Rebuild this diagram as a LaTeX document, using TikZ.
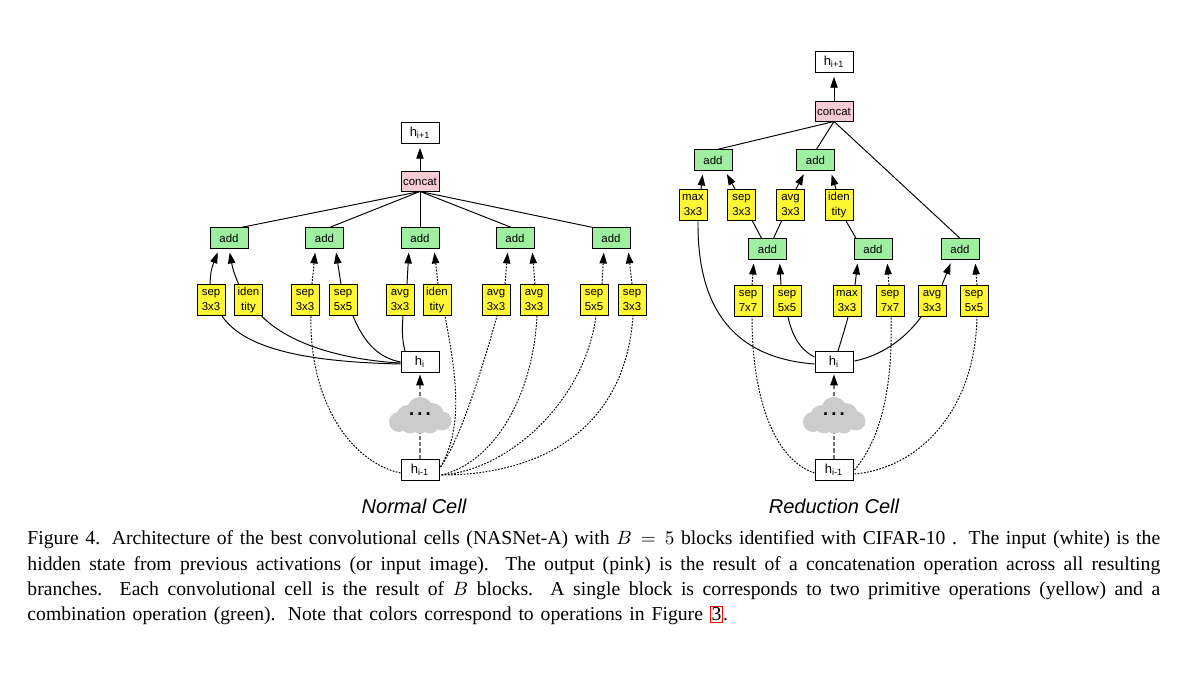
\documentclass[tikz,border=0pt]{standalone}
\usepackage{fontspec}
\setmainfont{Liberation Serif}
\setsansfont{Liberation Sans}
\usepackage{xcolor}
\usetikzlibrary{arrows.meta,calc}
\definecolor{opyellow}{HTML}{FFF733}
\definecolor{addgreen}{HTML}{9FEFA0}
\definecolor{catpink}{HTML}{F7CBD5}

\begin{document}
\begin{tikzpicture}[x=0.02cm, y=-0.02cm, line width=0.55pt,
    box/.style={rectangle, draw, inner sep=0pt, align=center, text height=5pt,
                font=\sffamily\fontsize{6.5}{7.8}\selectfont},
    state/.style={box, fill=white, minimum width=0.76cm, minimum height=0.42cm,
                  font=\sffamily\fontsize{7.4}{8}\selectfont},
    cat/.style={box, fill=catpink, minimum width=0.76cm, minimum height=0.4cm},
    addn/.style={box, fill=addgreen, minimum width=0.76cm, minimum height=0.41cm},
    op/.style={box, fill=opyellow, minimum width=0.56cm, minimum height=0.62cm,
               text height=, font=\sffamily\fontsize{6.5}{8.2}\selectfont},
    blob/.pic={\foreach \dx/\dy/\r in {0/-5/13,-12/2/12,-21/7/10,12/0/12,22/6/9.5,
                                       0/8/10.5,-10/10/8.5,10/10/8.5} {
                   \fill[black!20] (\dx,\dy) circle[radius=\r];}},
    ell/.style={inner sep=0pt, font=\sffamily\bfseries\fontsize{10.5}{11}\selectfont},
    title/.style={font=\sffamily\itshape\fontsize{11.4}{13}\selectfont},
    arr/.style={-{Triangle[length=6.2pt,width=4.2pt]}, shorten >=2.2pt},
    dots/.style={dash pattern=on 1pt off 0.8pt},
    dotarr/.style={arr, dots},
    grayarr/.style={-{Triangle[length=6.2pt,width=4.2pt,black]}, draw=black!55, line width=0.8pt,
                    shorten >=0.8pt, dash pattern=on 2.4pt off 1.2pt}]
\useasboundingbox (0,0) rectangle (1187,692);

% normal cell
\node[state] (nout) at (420,133) {h\textsubscript{i+1}};
\node[cat] (ncat) at (420,181) {concat};
\node[state] (nhi) at (420,362) {h\textsubscript{i}};
\node[state] (nhp) at (420,470) {h\textsubscript{i-1}};
\foreach \i/\x in {1/229,2/324.5,3/420,4/515,5/611} {\node[addn] (nadd\i) at (\x,238) {add};}
\foreach \i/\x/\t in {1/211/sep\\3x3, 2/248.5/iden\\tity, 3/305/sep\\3x3, 4/343/sep\\5x5,
                      5/400/avg\\3x3, 6/437/iden\\tity, 7/496/avg\\3x3, 8/534/avg\\3x3,
                      9/594/sep\\5x5, 10/632/sep\\3x3} {
    \node[op] (nop\i) at (\x,300) {\t};
}
\draw[arr] (ncat) -- (nout);
\foreach \i/\d in {1/13,2/5.5,3/0,4/-4,5/-19} {\draw ($(ncat.south)$) -- ($(nadd\i.north)+(\d,0)$);}
\draw[arr] ($(nop1.north)+(-1,0)$) .. controls (211,270) .. ($(nadd1.south)+(-10,0)$);
\draw[arr] ($(nop2.north)+(-10,0)$) .. controls (233,270) .. ($(nadd1.south)+(0,0)$);
\draw[arr] ($(nop4.north)+(-2,0)$) -- ($(nadd2.south)+(11,0)$);
\draw[arr] ($(nop5.north)+(7,0)$) -- ($(nadd3.south)+(-11,0)$);
\draw[dotarr] ($(nop3.north)+(7,0)$) -- ($(nadd2.south)+(-9,0)$);
\draw[dotarr] ($(nop6.north)+(1,0)$) -- ($(nadd3.south)+(14,0)$);
\draw[dotarr] ($(nop7.north)+(9,0)$) -- ($(nadd4.south)+(-7,0)$);
\draw[dotarr] ($(nop8.north)+(1,0)$) -- ($(nadd4.south)+(17,0)$);
\draw[dotarr] ($(nop9.north)+(8,0)$) -- ($(nadd5.south)+(-7,0)$);
\draw[dotarr] ($(nop10.north)+(0,0)$) -- ($(nadd5.south)+(17,0)$);
\draw ($(nhi.west)+(0,2)$) .. controls (310,362) and (245,350) .. ($(nop1.south)+(11,0)$);
\draw ($(nhi.west)+(0,1)$) .. controls (345,360) and (290,345) .. ($(nop2.south)+(13,0)$);
\draw ($(nhi.west)+(0,0)$) .. controls (380,358) and (365,345) .. ($(nop4.south)+(10,0)$);
\draw ($(nhi.north)+(-15,0)$) .. controls (402,340) and (402,330) .. ($(nop5.south)+(3,0)$);
\draw[dots] ($(nhp.west)+(0,3)$) .. controls (350,462) and (309,400) .. ($(nop3.south)+(6,0)$);
\draw[dots] ($(nhp.east)+(1,-3)$) .. controls (465,425) and (455,370) .. ($(nop6.south)+(8,0)$);
\draw[dots] ($(nhp.east)+(1,-3)$) .. controls (460,440) and (482,370) .. ($(nop7.south)+(1,0)$);
\draw[dots] ($(nhp.east)+(2,5)$) .. controls (495,462) and (533,395) .. ($(nop8.south)+(3,0)$);
\draw[dots] ($(nhp.east)+(2,5)$) .. controls (510,470) and (585,400) .. ($(nop9.south)+(2,0)$);
\draw[dots] ($(nhp.east)+(2,5)$) .. controls (540,475) and (625,430) .. ($(nop10.south)+(1,0)$);
\draw[grayarr] (nhp) -- (nhi);
\pic at (420,415) {blob};
\node[ell] (ncloud) at (420,414) {.\,.\,.};
\node[title] (nlabel) at (414,506) {Normal Cell};

% reduction cell
\node[state] (rout) at (834,62) {h\textsubscript{i+1}};
\node[cat] (rcat) at (834,111) {concat};
\node[state] (rhi) at (834,362) {h\textsubscript{i}};
\node[state] (rhp) at (834,470) {h\textsubscript{i-1}};
\foreach \i/\x/\y in {1/713/160,2/815.5/160,3/767.5/249,4/873/249,5/960/249} {
    \node[addn] (radd\i) at (\x,\y) {add};
}
\foreach \i/\x/\y/\t in {1/693/205/max\\3x3, 2/741.5/205/sep\\3x3, 3/790.5/205/avg\\3x3,
                         4/839/205/iden\\tity, 5/748/301/sep\\7x7, 6/787/301/sep\\5x5,
                         7/847/301/max\\3x3, 8/890/301/sep\\7x7, 9/932/301/avg\\3x3,
                         10/974/301/sep\\5x5} {
    \node[op] (rop\i) at (\x,\y) {\t};
}
\draw[arr] (rcat) -- (rout);
\foreach \i/\d in {1/5,2/1,5/0} {\draw (rcat.south) -- ($(radd\i.north)+(\d,0)$);}
\draw[arr] ($(rop1.north)+(8,0)$) -- ($(radd1.south)+(-10,0)$);
\draw[arr] ($(rop2.north)+(-6.5,0)$) -- ($(radd1.south)+(12,0)$);
\draw[arr] ($(rop3.north)+(5.5,0)$) -- ($(radd2.south)+(-10,0)$);
\draw[arr] ($(rop4.north)+(-3,0)$) -- ($(radd2.south)+(15,0)$);
\draw ($(radd3.north)+(-6,0)$) -- ($(rop2.south)+(11,0)$);
\draw ($(radd3.north)+(6,0)$) -- ($(rop3.south)+(-9,0)$);
\draw ($(radd4.north)+(-17,0)$) -- ($(rop4.south)+(7,0)$);
\draw[arr] ($(rop6.north)+(-6,0)$) -- ($(radd3.south)+(12,0)$);
\draw[arr] ($(rop7.north)+(8,0)$) -- ($(radd4.south)+(-15,0)$);
\draw[arr] ($(rop9.north)+(10,0)$) -- ($(radd5.south)+(-8,0)$);
\draw[dotarr] ($(rop5.north)+(4,0)$) -- ($(radd3.south)+(-13.5,0)$);
\draw[dotarr] ($(rop8.north)+(-1,0)$) -- ($(radd4.south)+(14,0)$);
\draw[dotarr] ($(rop10.north)+(3,0)$) -- ($(radd5.south)+(15,0)$);
\draw ($(rhi.west)+(0,2)$) .. controls (735,358) and (697,310) .. ($(rop1.south)+(5,0)$);
\draw ($(rhi.west)+(0,-5)$) .. controls (800,350) and (792,335) .. ($(rop6.south)+(1,0)$);
\draw ($(rhi.north)+(4,0)$) .. controls (842,338) and (846,325) .. ($(rop7.south)+(1,0)$);
\draw ($(rhi.east)+(1,-1)$) .. controls (885,355) and (908,335) .. ($(rop9.south)+(-11,0)$);
\draw[dots] ($(rhp.west)+(0,3)$) .. controls (775,460) and (752,400) .. ($(rop5.south)+(4,0)$);
\draw[dots] ($(rhp.east)+(1,0)$) .. controls (880,440) and (893,390) .. ($(rop8.south)+(1,0)$);
\draw[dots] ($(rhp.east)+(1,4)$) .. controls (920,468) and (975,410) .. ($(rop10.south)+(3,0)$);
\draw[grayarr] (rhp) -- (rhi);
\pic at (834,415) {blob};
\node[ell] (rcloud) at (834,414) {.\,.\,.};
\node[title] (rlabel) at (834,506) {Reduction Cell};

\node[anchor=north west, inner sep=0pt, text width=22.66cm, align=justify,
      font=\fontsize{11.2}{14.4}\selectfont] (caption) at (27,530.5)
    {Figure 4. Architecture of the best convolutional cells (NASNet-A) with $B=5$ blocks identified with CIFAR-10 . The input (white) is the\linebreak
     hidden state from previous activations (or input image). The output (pink) is the result of a concatenation operation across all resulting\linebreak
     branches. Each convolutional cell is the result of $B$ blocks. A single block is corresponds to two primitive operations (yellow) and a\linebreak
     combination operation (green). Note that colors correspond to operations in Figure {\fboxsep=0.6pt\fcolorbox{red}{white}{3}}.\hspace*{246pt}\linebreak};
\end{tikzpicture}
\end{document}
